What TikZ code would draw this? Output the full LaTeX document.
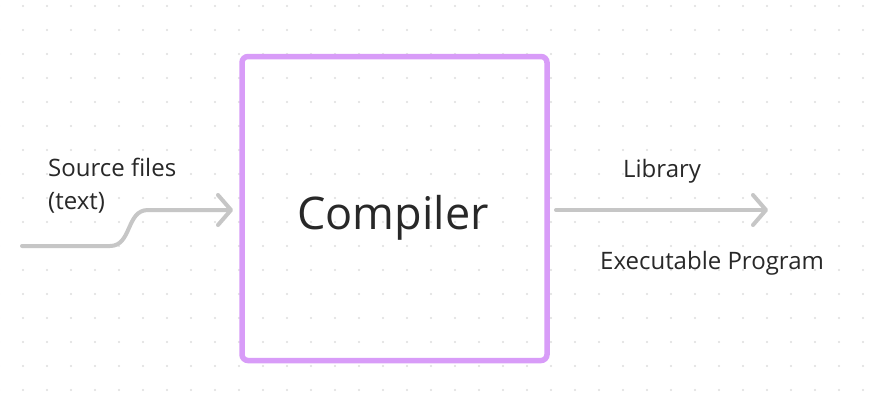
\documentclass[tikz,border=0pt]{standalone}
\usepackage{fontspec}
\setmainfont{Open Sans}
\usetikzlibrary{arrows.meta}
\definecolor{boxc}{RGB}{216,156,248}
\definecolor{linec}{RGB}{198,198,198}
\definecolor{txtc}{RGB}{40,40,40}
\definecolor{dotc}{RGB}{222,222,222}
\tikzset{
  conn/.style={draw=linec, line width=4pt, line cap=round, line join=round,
    -{Straight Barb[length=13pt,width=30pt,line cap=round,line join=round]}},
  lbl/.style={text=txtc, font=\fontsize{24}{28}\selectfont, inner sep=0pt, anchor=base west},
  mainbox/.style={draw=boxc, line width=5.5pt, rounded corners=6pt, minimum width=305pt, minimum height=304pt, inner sep=0pt}
}
\begin{document}
\begin{tikzpicture}[x=1pt,y=-1pt]
\useasboundingbox (0,0) rectangle (871,408);
\fill[white] (0,0) rectangle (871,408);
\foreach \i in {-1,...,35}{
  \foreach \j in {0,...,16}{
    \fill[dotc] (23+24*\i, 6+24*\j) circle (1.1pt);
  }
}
\node[mainbox] (compiler) at (394.5,208.5) {};
\node[text=txtc, font=\fontsize{45}{54}\selectfont, inner sep=0pt, anchor=base] (ctext) at (393,229) {Compiler};
\node[lbl] (src1) at (48,176) {Source files};
\node[lbl] (src2) at (48,209) {(text)};
\node[lbl] (lib) at (623,177) {Library};
\node[lbl] (exe) at (600,269) {Executable Program};
\coordinate (start) at (22,246);
\coordinate (inend) at (233,210);
\coordinate (outstart) at (556,210);
\coordinate (outend) at (768,210);
\draw[conn] (start) -- (110,246) .. controls (132,246) and (126,210) .. (148,210) -- (inend);
\draw[conn] (outstart) -- (outend);
\end{tikzpicture}
\end{document}
